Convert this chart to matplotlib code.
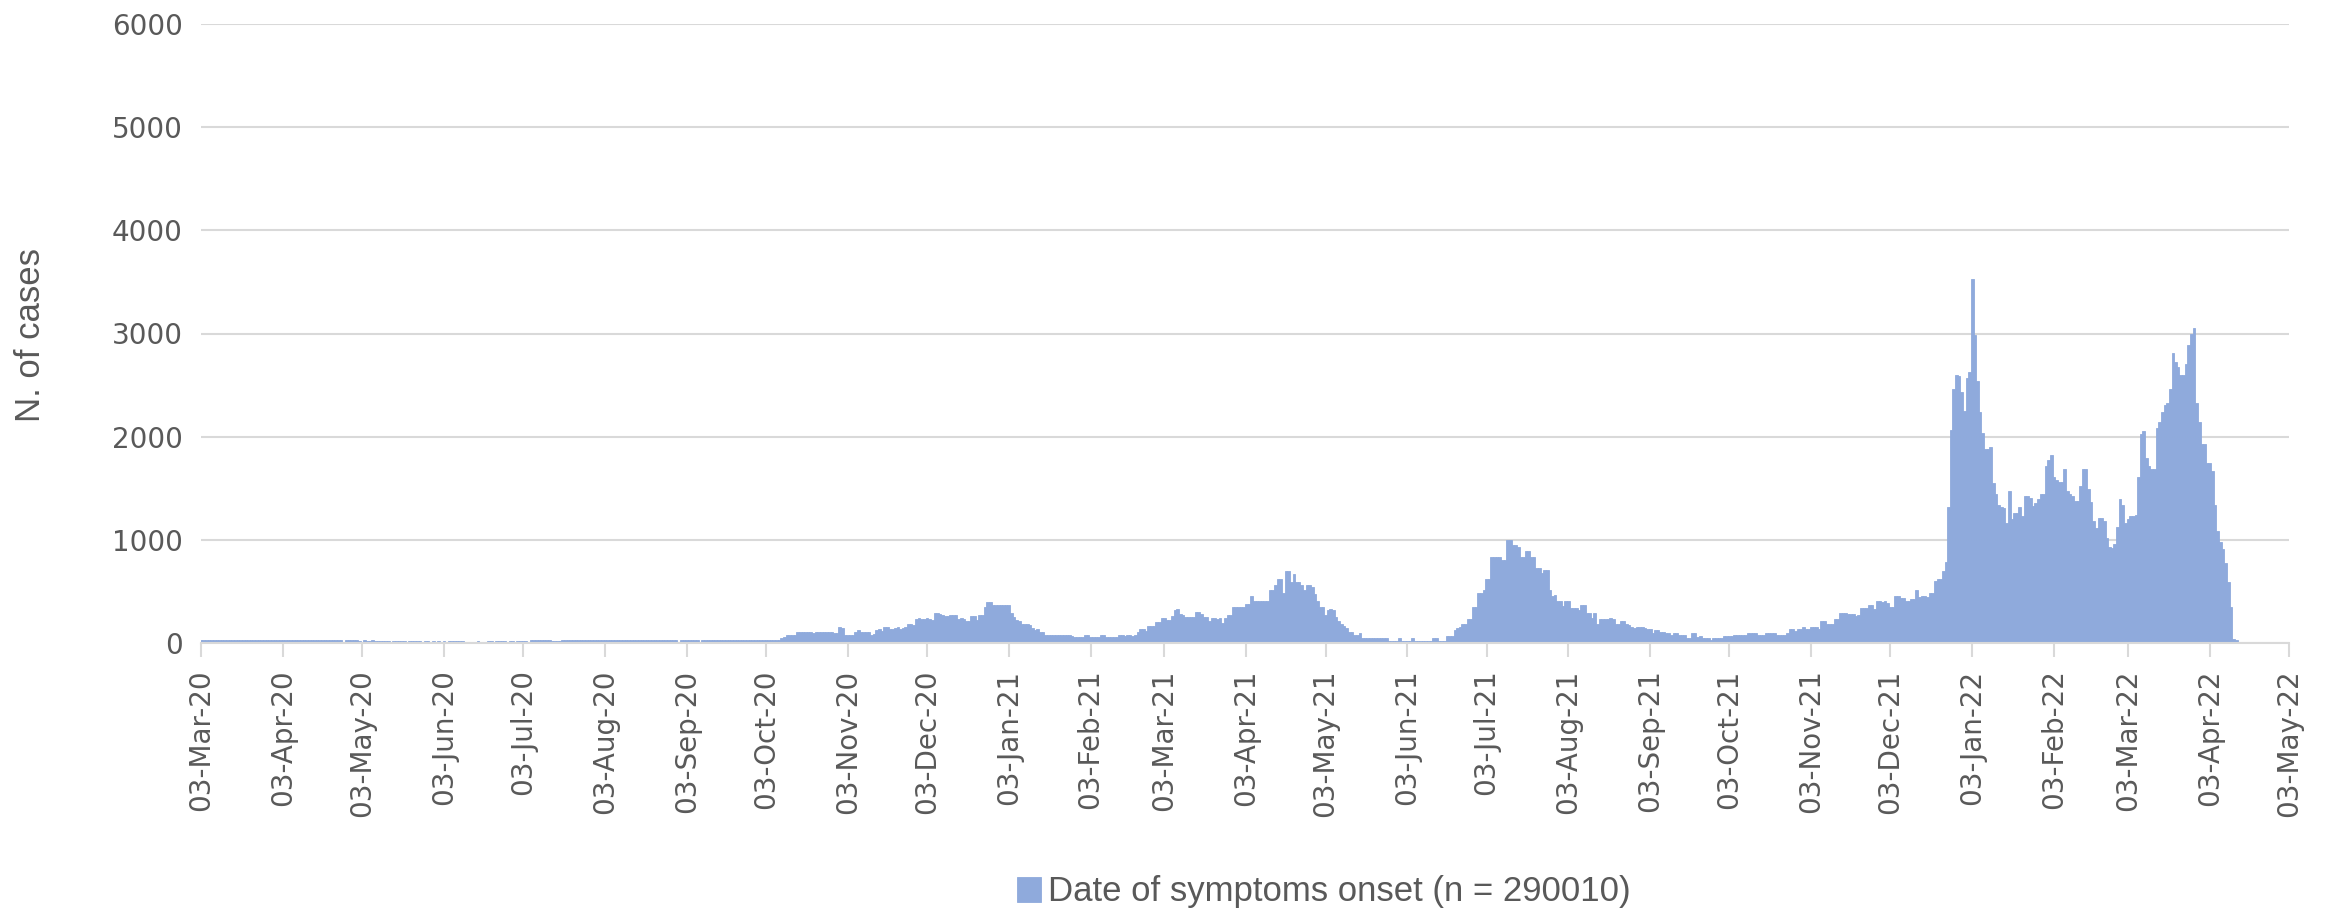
import matplotlib
matplotlib.use('Agg')
import matplotlib.pyplot as plt
import matplotlib.dates as mdates
import numpy as np
import pandas as pd

# daily cases by date of symptoms onset (03-Mar-20 .. 13-Apr-22)
mar20 = [28, 30, 29, 31, 30, 29, 28, 30, 31, 30, 29, 28, 29, 30, 31, 30, 29, 30, 28, 29,
         30, 31, 30, 29, 28, 29, 30, 30, 29]
apr20 = [29, 30, 28, 29, 30, 29, 28, 27, 29, 30, 28, 27, 28, 29, 27, 26, 28, 27, 26, 27,
         28, 26, 25, 27, 26, 14, 26, 25, 27, 26]
may20 = [25, 24, 12, 25, 24, 23, 25, 24, 23, 24, 22, 23, 24, 10, 23, 22, 24, 23, 22, 8,
         21, 22, 23, 21, 20, 6, 21, 20, 5, 20, 4]
jun20 = [20, 5, 19, 4, 20, 18, 19, 20, 18, 17, 0, 0, 3, 0, 0, 15, 0, 0, 0, 16,
         16, 3, 18, 17, 16, 15, 2, 18, 17, 3]
jul20 = [18, 20, 19, 18, 3, 25, 26, 25, 27, 26, 25, 26, 27, 20, 19, 21, 20, 26, 27, 25,
         26, 27, 28, 26, 25, 27, 26, 28, 27, 26, 25]
aug20 = [26, 27, 25, 26, 28, 27, 26, 25, 27, 28, 26, 27, 25, 26, 27, 28, 26, 25, 27, 26,
         28, 27, 26, 25, 27, 26, 28, 27, 26, 25, 4]
sep20 = [25, 26, 27, 26, 25, 27, 26, 6, 26, 27, 25, 26, 27, 28, 26, 25, 27, 26, 28, 27,
         26, 25, 27, 26, 28, 27, 26, 27, 25, 26]
oct20 = [26, 27, 25, 26, 27, 26, 28, 30, 52, 60, 78, 80, 78, 79, 104, 105, 103, 104, 106, 104,
         95, 104, 105, 104, 103, 105, 104, 104, 95, 100, 156]
nov20 = [150, 78, 79, 78, 80, 104, 130, 104, 105, 104, 103, 78, 90, 130, 131, 120, 156, 157, 136, 137,
         150, 156, 140, 150, 156, 185, 186, 175, 237, 238]
dec20 = [237, 236, 238, 237, 220, 292, 293, 285, 270, 263, 264, 270, 271, 270, 237, 238, 236, 211, 212, 263,
         264, 225, 270, 271, 350, 397, 398, 370, 371, 370, 372]
jan21 = [370, 371, 369, 292, 250, 220, 211, 185, 180, 181, 179, 150, 130, 131, 110, 104, 78, 79, 81, 80,
         82, 81, 80, 81, 82, 75, 70, 55, 56, 55, 54]
feb21 = [81, 82, 62, 63, 61, 62, 81, 80, 55, 56, 54, 55, 60, 81, 75, 70, 81, 82, 70, 75,
         104, 136, 137, 114, 162, 163, 161, 201]
mar21 = [201, 243, 244, 224, 225, 266, 324, 325, 280, 272, 250, 251, 249, 250, 298, 299, 282, 250, 251, 217,
         243, 244, 233, 243, 191, 243, 272, 273, 353, 347, 348]
apr21 = [347, 346, 379, 380, 460, 405, 406, 404, 405, 407, 405, 509, 510, 567, 616, 617, 486, 697, 698, 590,
         665, 590, 591, 558, 509, 564, 565, 541, 477, 405]
may21 = [347, 346, 276, 324, 325, 321, 250, 215, 180, 160, 143, 103, 104, 77, 78, 100, 50, 51, 49, 50,
         52, 50, 49, 51, 50, 48, 17, 18, 17, 16, 50]
jun21 = [23, 24, 22, 23, 50, 20, 21, 19, 20, 22, 20, 21, 50, 51, 17, 18, 16, 70, 71, 69,
         127, 150, 151, 183, 184, 236, 237, 350, 351, 483]
jul21 = [483, 510, 620, 621, 836, 837, 835, 836, 803, 804, 1000, 1001, 950, 951, 926, 836, 837, 893, 894, 836,
         835, 726, 727, 676, 703, 704, 510, 460, 461, 410, 411]
aug21 = [360, 403, 404, 343, 344, 342, 316, 370, 371, 293, 294, 243, 286, 183, 236, 237, 235, 236, 238, 236,
         183, 184, 210, 211, 183, 170, 155, 145, 156, 157, 156]
sep21 = [150, 136, 137, 93, 126, 127, 103, 104, 100, 101, 77, 100, 101, 77, 78, 76, 50, 51, 100, 99,
         60, 67, 50, 51, 49, 30, 50, 51, 49, 50]
oct21 = [70, 71, 65, 67, 77, 78, 76, 77, 78, 100, 101, 99, 100, 77, 78, 77, 100, 101, 100, 99,
         77, 78, 76, 77, 100, 133, 134, 117, 133, 134, 153]
nov21 = [136, 137, 153, 154, 152, 140, 210, 211, 183, 184, 182, 236, 237, 293, 294, 292, 283, 284, 282, 266,
         267, 343, 336, 337, 370, 371, 326, 403, 404, 402]
dec21 = [403, 383, 350, 351, 456, 457, 433, 434, 410, 411, 426, 427, 510, 450, 451, 460, 443, 483, 484, 600,
         623, 624, 700, 784, 1314, 2064, 2460, 2596, 2590, 2437, 2249]
jan22 = [2573, 2622, 3530, 2989, 2541, 2242, 2038, 1876, 1880, 1898, 1551, 1444, 1334, 1314, 1308, 1162, 1476, 1200, 1259, 1260,
         1314, 1233, 1421, 1422, 1402, 1324, 1356, 1395, 1444, 1445, 1713]
feb22 = [1769, 1820, 1606, 1584, 1558, 1559, 1687, 1470, 1444, 1421, 1373, 1374, 1525, 1687, 1688, 1493, 1366, 1178, 1113, 1210,
         1211, 1178, 1016, 930, 925, 960, 1129, 1395]
mar22 = [1340, 1168, 1200, 1227, 1228, 1243, 1606, 2028, 2054, 1794, 1720, 1691, 1687, 2087, 2142, 2242, 2304, 2330, 2466, 2807,
         2726, 2677, 2599, 2600, 2703, 2891, 3000, 3050, 2330, 2142, 1931]
apr22 = [1931, 1746, 1747, 1665, 1340, 1081, 983, 912, 779, 594, 350, 35, 28]

series_label = "Date of symptoms onset (n = 290010)"
y_ticks = [0, 1000, 2000, 3000, 4000, 5000, 6000]

cases = np.array(mar20 + apr20 + may20 + jun20 + jul20 + aug20 + sep20 + oct20 + nov20 + dec20
                 + jan21 + feb21 + mar21 + apr21 + may21 + jun21 + jul21 + aug21 + sep21 + oct21
                 + nov21 + dec21 + jan22 + feb22 + mar22 + apr22)
days = pd.date_range("2020-03-03", periods=len(cases), freq="D")
month_ticks = [pd.Timestamp(2020, 3, 3) + pd.DateOffset(months=i) for i in range(27)]

GREY = "#595959"
GRID = "#D9D9D9"
BAR = "#8FAADC"

W, H = 2333, 909
fig = plt.figure(figsize=(W / 100, H / 100), dpi=100)
ax = fig.add_axes([201 / W, 1 - 643 / H, (2289 - 201) / W, (643 - 24) / H])

# edge in the same colour closes the hairline gaps between neighbouring days
bars = ax.bar(days, cases, width=1.0, color=BAR, edgecolor=BAR, linewidth=0.6,
              label=series_label)

ax.set_ylim(0, 6000)
ax.set_yticks(y_ticks)
ax.set_xlim(mdates.date2num(month_ticks[0]), mdates.date2num(month_ticks[-1]))
ax.set_xticks(month_ticks)
ax.xaxis.set_major_formatter(mdates.DateFormatter("%d-%b-%y"))

ax.grid(axis="y", color=GRID, linewidth=1.5)
ax.set_axisbelow(True)
for s in ["top", "right", "left"]:
    ax.spines[s].set_visible(False)
ax.spines["bottom"].set_color(GRID)
ax.spines["bottom"].set_linewidth(1.5)

ax.tick_params(axis="y", length=0, pad=13, labelsize=20, labelcolor=GREY)
ax.tick_params(axis="x", length=10, width=1.5, color=GRID, pad=9, labelsize=20,
               labelcolor=GREY, labelrotation=90)

fig.text(31 / W, 1 - 335 / H, "N. of cases", rotation=90, ha="center", va="center",
         fontsize=25, color=GREY, family="Liberation Sans")

fig.legend(handles=[bars], labels=[series_label], loc="center left",
           bbox_to_anchor=(1017 / W, 1 - 892 / H), frameon=False, borderpad=0,
           borderaxespad=0, handlelength=0.7, handleheight=0.7, handletextpad=0.2,
           prop={"family": "Liberation Sans", "size": 25}, labelcolor=GREY)

fig.savefig("out.png", dpi=100)
